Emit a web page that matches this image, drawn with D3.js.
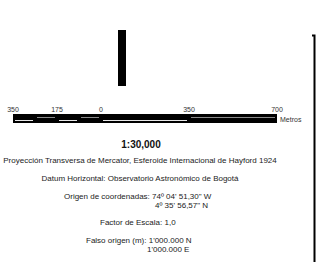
<!DOCTYPE html>
<html>
<head>
<meta charset="utf-8">
<script src="https://cdn.jsdelivr.net/npm/d3@7"></script>
<style>
  body { margin: 0; background: #fff; }
  text { font-family: "Liberation Sans", Arial, sans-serif; }
</style>
</head>
<body>
<svg id="map" width="316" height="262"></svg>
<script>
// scale bar values (metres)
var scaleStops = [-350, -262.5, -175, -87.5, 0, 350, 700];
var scaleTicks = [-350, -175, 0, 350, 700];
var scaleLabels = ['350', '175', '0', '350', '700'];
var scaleUnit = 'Metros';
var scaleRatio = '1:30,000';

// note lines
var noteLines = [
  'Proyección Transversa de Mercator, Esferoide Internacional de Hayford 1924',
  'Datum Horizontal: Observatorio Astronómico de Bogotá',
  'Origen de coordenadas: 74º 04\' 51,30" W',
  '4º 35\' 56,57" N',
  'Factor de Escala: 1,0',
  'Falso origen (m): 1\'000.000 N',
  '1\'000.000 E'
];

// layout for the note lines
var noteLayout = [
  {x: 140, y: 163, anchor: 'middle'},
  {x: 140, y: 181, anchor: 'middle'},
  {x: 64, y: 199, anchor: 'start'},
  {x: 155, y: 208, anchor: 'start'},
  {x: 100, y: 225, anchor: 'start'},
  {x: 86, y: 243, anchor: 'start'},
  {x: 147, y: 252, anchor: 'start'}
];

var svg = d3.select('#map');

// north arrow (just the shaft)
svg.append('rect')
   .attr('x', 118)
   .attr('y', 30)
   .attr('width', 8)
   .attr('height', 56)
   .style('fill', '#000');

// right frame edge
svg.append('path')
   .attr('d', 'M312,35.5H314.5V262')
   .style('fill', 'none')
   .style('stroke', '#000')
   .style('stroke-width', 2);

var x = d3.scaleLinear()
          .domain([scaleStops[0], scaleStops[scaleStops.length - 1]])
          .range([13, 277]);

var bar = svg.append('g').attr('class', 'scalebar');

bar.append('rect')
   .attr('x', x(scaleStops[0]))
   .attr('y', 114)
   .attr('width', x(scaleStops[scaleStops.length - 1]) - x(scaleStops[0]))
   .attr('height', 9)
   .style('fill', '#000');

//alternating segments
for(var i = 0; i < scaleStops.length - 1; i ++){
  var up = i % 2 == 1;
  bar.append('line')
     .attr('x1', x(scaleStops[i]) + 2)
     .attr('x2', x(scaleStops[i + 1]) - 2)
     .attr('y1', up ? 117.5 : 120.5)
     .attr('y2', up ? 117.5 : 120.5)
     .style('stroke', up ? '#8a8a8a' : '#e8e8e8')
     .style('stroke-width', 1);
}

bar.selectAll('text.tick')
   .data(scaleTicks)
   .enter()
   .append('text')
   .attr('class', 'tick')
   .attr('x', function(d){ return x(d); })
   .attr('y', 112)
   .attr('text-anchor', 'middle')
   .style('font-size', '7px')
   .style('fill', '#333')
   .text(function(d, i){ return scaleLabels[i]; });

bar.append('text')
   .attr('x', x(scaleStops[scaleStops.length - 1]) + 3)
   .attr('y', 122)
   .style('font-size', '7px')
   .style('fill', '#333')
   .text(scaleUnit);

svg.append('text')
   .attr('x', 141)
   .attr('y', 148)
   .attr('text-anchor', 'middle')
   .style('font-size', '10px')
   .style('font-weight', 'bold')
   .style('fill', '#111')
   .text(scaleRatio);

svg.selectAll('text.note')
   .data(noteLines)
   .enter()
   .append('text')
   .attr('class', 'note')
   .attr('x', function(d, i){ return noteLayout[i].x; })
   .attr('y', function(d, i){ return noteLayout[i].y; })
   .attr('text-anchor', function(d, i){ return noteLayout[i].anchor; })
   .style('font-size', '8px')
   .style('fill', '#222')
   .text(function(d){ return d; });
</script>
</body>
</html>
